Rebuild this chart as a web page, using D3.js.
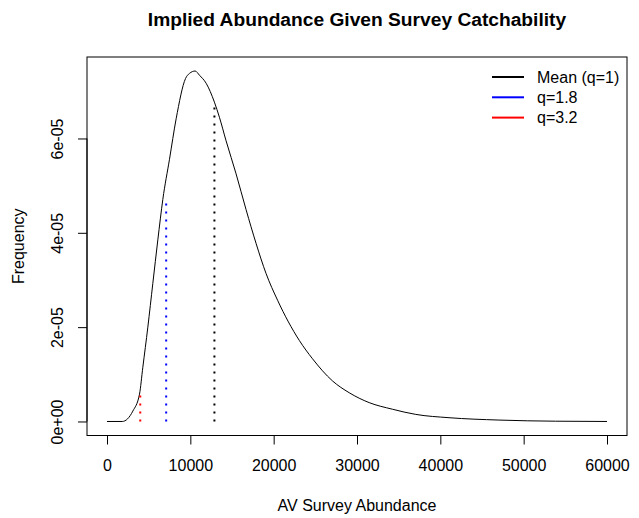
<!DOCTYPE html>
<html>
<head>
<meta charset="utf-8">
<script src="https://cdn.jsdelivr.net/npm/d3@7"></script>
<style>
html,body{margin:0;padding:0;background:#fff;}
svg{display:block;font-family:"Liberation Sans",Arial,sans-serif;}
</style>
</head>
<body>
<svg id="chart" width="639" height="518"></svg>
<script>
// Density curve
const abundance = [0, 1830, 3100, 3900, 4300, 4900, 5500, 6100, 6700, 7500, 8300, 9420, 9900, 10580, 11100, 11900, 12890, 13490, 14290, 15490, 16690, 17880, 19080, 20470, 23070, 24660, 27060, 29060, 31460, 34250, 37050, 41040, 47030, 53820, 60000];
const frequency = [0, 0, 0.22e-5, 0.58e-5, 1.15e-5, 2.00e-5, 2.93e-5, 3.85e-5, 4.71e-5, 5.56e-5, 6.42e-5, 7.27e-5, 7.38e-5, 7.43e-5, 7.34e-5, 7.17e-5, 6.77e-5, 6.45e-5, 5.95e-5, 5.25e-5, 4.49e-5, 3.78e-5, 3.14e-5, 2.57e-5, 1.72e-5, 1.33e-5, 0.86e-5, 0.61e-5, 0.40e-5, 0.26e-5, 0.15e-5, 0.08e-5, 0.03e-5, 0.006e-5, 0];
// Vertical reference lines
const refLabels = ["Mean (q=1)", "q=1.8", "q=3.2"];
const refColors = ["black", "blue", "red"];
const refX = [12890, 7100, 3990];
const refTop = [6.77e-5, 4.62e-5, 0.58e-5];
// Ticks
const xTicks = [0, 10000, 20000, 30000, 40000, 50000, 60000];
const yTicks = [0, 2e-5, 4e-5, 6e-5];
const yTickLabels = ["0e+00", "2e-05", "4e-05", "6e-05"];

const svg = d3.select("#chart");
const box = {left: 87, right: 627, top: 57, bottom: 435.5};
const FONT = "Liberation Sans, Arial, sans-serif";

const xMin = d3.min(abundance), xMax = d3.max(abundance);
const yMin = d3.min(frequency), yMax = d3.max(frequency);
const xPad = (xMax - xMin) * 0.04, yPad = (yMax - yMin) * 0.04;
const x = d3.scaleLinear().domain([xMin - xPad, xMax + xPad]).range([box.left, box.right]);
const y = d3.scaleLinear().domain([yMin - yPad, yMax + yPad]).range([box.bottom, box.top]);

// Curve
const pts = abundance.map((a, i) => [a, frequency[i]]);
svg.append("path")
  .datum(pts)
  .attr("fill", "none")
  .attr("stroke", "black")
  .attr("stroke-width", 1)
  .attr("d", d3.line().x(d => x(d[0])).y(d => y(d[1])).curve(d3.curveMonotoneX));

// Reference dotted lines
svg.selectAll("line.ref")
  .data(refX)
  .enter().append("line")
  .attr("class", "ref")
  .attr("x1", d => x(d)).attr("x2", d => x(d))
  .attr("y1", y(0)).attr("y2", (d, i) => y(refTop[i]))
  .attr("stroke", (d, i) => refColors[i])
  .attr("stroke-width", 2)
  .attr("stroke-dasharray", "2,6");

// Box
svg.append("rect")
  .attr("x", box.left).attr("y", box.top)
  .attr("width", box.right - box.left).attr("height", box.bottom - box.top)
  .attr("fill", "none").attr("stroke", "black").attr("stroke-width", 1);

// X axis
const xAxis = d3.axisBottom(x).tickValues(xTicks).tickSize(9).tickPadding(15).tickFormat(d3.format("d"));
const gx = svg.append("g").attr("transform", `translate(0,${box.bottom})`).call(xAxis);
gx.select(".domain").attr("d", `M${x(xTicks[0])},0H${x(xTicks[xTicks.length-1])}`);
gx.selectAll("text").attr("font-size", 16).attr("font-family", FONT).attr("fill", "#000");

// Y axis
const yAxis = d3.axisLeft(y).tickValues(yTicks).tickSize(9).tickFormat((d, i) => yTickLabels[i]);
const gy = svg.append("g").attr("transform", `translate(${box.left},0)`).call(yAxis);
gy.select(".domain").attr("d", `M0,${y(yTicks[0])}V${y(yTicks[yTicks.length-1])}`);
gy.selectAll("text")
  .attr("font-size", 16).attr("font-family", FONT).attr("fill", "#000")
  .attr("x", 0).attr("dy", null)
  .attr("text-anchor", "middle")
  .attr("transform", "translate(-24,0) rotate(-90)")
  .attr("y", 0);

// Title
svg.append("text").attr("x", (box.left + box.right) / 2).attr("y", 26)
  .attr("text-anchor", "middle").attr("font-size", 19.2).attr("font-weight", "bold")
  .text("Implied Abundance Given Survey Catchability");

// Axis titles
svg.append("text").attr("x", (box.left + box.right) / 2).attr("y", 511)
  .attr("text-anchor", "middle").attr("font-size", 16)
  .text("AV Survey Abundance");
svg.append("text")
  .attr("transform", `translate(24,${(box.top + box.bottom) / 2}) rotate(-90)`)
  .attr("text-anchor", "middle").attr("font-size", 16)
  .text("Frequency");

// Legend
const lg = svg.append("g").attr("transform", "translate(492,77)");
refLabels.forEach((lab, i) => {
  lg.append("line").attr("x1", 0).attr("x2", 32).attr("y1", i * 20.3).attr("y2", i * 20.3)
    .attr("stroke", refColors[i]).attr("stroke-width", 2);
  lg.append("text").attr("x", 45).attr("y", i * 20.3 + 5.7).attr("font-size", 16).text(lab);
});
</script>
</body>
</html>
